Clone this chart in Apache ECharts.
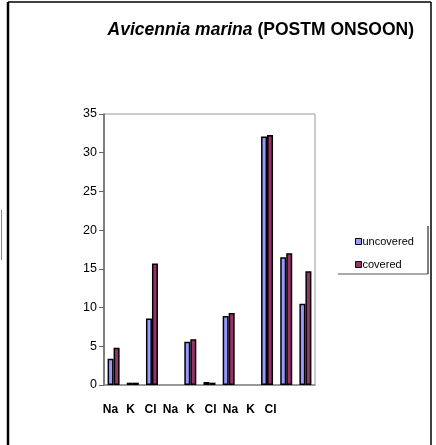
<!DOCTYPE html>
<html><head><meta charset="utf-8">
<script src="https://cdn.jsdelivr.net/npm/echarts@6/dist/echarts.min.js"></script>
<style>html,body{margin:0;padding:0;background:#fff}#c{width:436px;height:445px}</style>
</head><body><div id="c"></div>
<script>
const slots = ['Na','K','Cl','','Na','K','Cl','','Na','K','Cl'];
const uncovered = [3.4, 0.3, 8.6, null, 5.6, 0.4, 8.9, null, 32.1, 16.5, 10.5];
const covered   = [4.8, 0.3, 15.7, null, 5.9, 0.3, 9.3, null, 32.3, 17.0, 14.7];
const tickLabels = ['Na','K','Cl','Na','K','Cl','Na','K','Cl'];
const FONT = 'Liberation Sans, Arial, sans-serif';
const chart = echarts.init(document.getElementById('c'));
chart.setOption({
  animation:false,
  backgroundColor:'#fff',
  title:{
    text:'{i|Avicennia marina} {b|(POSTM ONSOON)}',
    right:17, top:16,
    textStyle:{rich:{
      i:{fontFamily:FONT,fontSize:17.5,fontWeight:'bold',fontStyle:'italic',color:'#000'},
      b:{fontFamily:FONT,fontSize:17.5,fontWeight:'bold',color:'#000'}
    }}
  },
  legend:{
    orient:'vertical', left:350, top:231, itemWidth:6, itemHeight:6, itemGap:12,
    icon:'rect',
    itemStyle:{borderColor:'#000',borderWidth:1},
    textStyle:{fontFamily:FONT,fontSize:11,color:'#000',padding:[0,0,0,-4]},
    data:['uncovered','covered']
  },
  grid:[
    {left:104, right:121, top:114, bottom:60, show:true, borderColor:'#999', borderWidth:1},
    {left:100.5, width:180, top:114, bottom:60, show:false}
  ],
  xAxis:[
    {gridIndex:0, type:'category', data:slots, axisLabel:{show:false}, axisTick:{show:false},
     axisLine:{lineStyle:{color:'#888',width:1.5}}},
    {gridIndex:1, type:'category', data:tickLabels, position:'bottom', axisLine:{show:false}, axisTick:{show:false},
     axisLabel:{margin:19, fontFamily:FONT, fontSize:12, fontWeight:'bold', color:'#000'}}
  ],
  yAxis:[
    {gridIndex:0, type:'value', min:0, max:35, interval:5,
     axisLine:{show:true,lineStyle:{color:'#666',width:1.5}},
     axisTick:{show:true,length:5,lineStyle:{color:'#666'}},
     splitLine:{show:false},
     axisLabel:{fontFamily:FONT,fontSize:12.5,color:'#000',margin:7}},
    {gridIndex:1, type:'value', show:false}
  ],
  series:[
    {name:'uncovered', type:'bar', data:uncovered, barWidth:6, barGap:'0%',
     itemStyle:{color:'#9999FF', borderColor:'#000', borderWidth:1.5}},
    {name:'covered', type:'bar', data:covered, barWidth:6, barGap:'0%',
     itemStyle:{color:'#993366', borderColor:'#000', borderWidth:1.5}}
  ],
  graphic:[
    {type:'line', shape:{x1:8,y1:2,x2:8,y2:445}, style:{stroke:'#000',lineWidth:2.5}},
    {type:'line', shape:{x1:8,y1:2,x2:431,y2:2}, style:{stroke:'#000',lineWidth:1.5}},
    {type:'line', shape:{x1:431,y1:2,x2:431,y2:445}, style:{stroke:'#000',lineWidth:1.5}},
    {type:'line', shape:{x1:1.5,y1:210,x2:1.5,y2:260}, style:{stroke:'#888',lineWidth:1}},
    {type:'line', shape:{x1:428,y1:226,x2:428,y2:274}, style:{stroke:'#000',lineWidth:1}},
    {type:'line', shape:{x1:338,y1:274,x2:428,y2:274}, style:{stroke:'#555',lineWidth:1}}
  ]
});
</script></body></html>
